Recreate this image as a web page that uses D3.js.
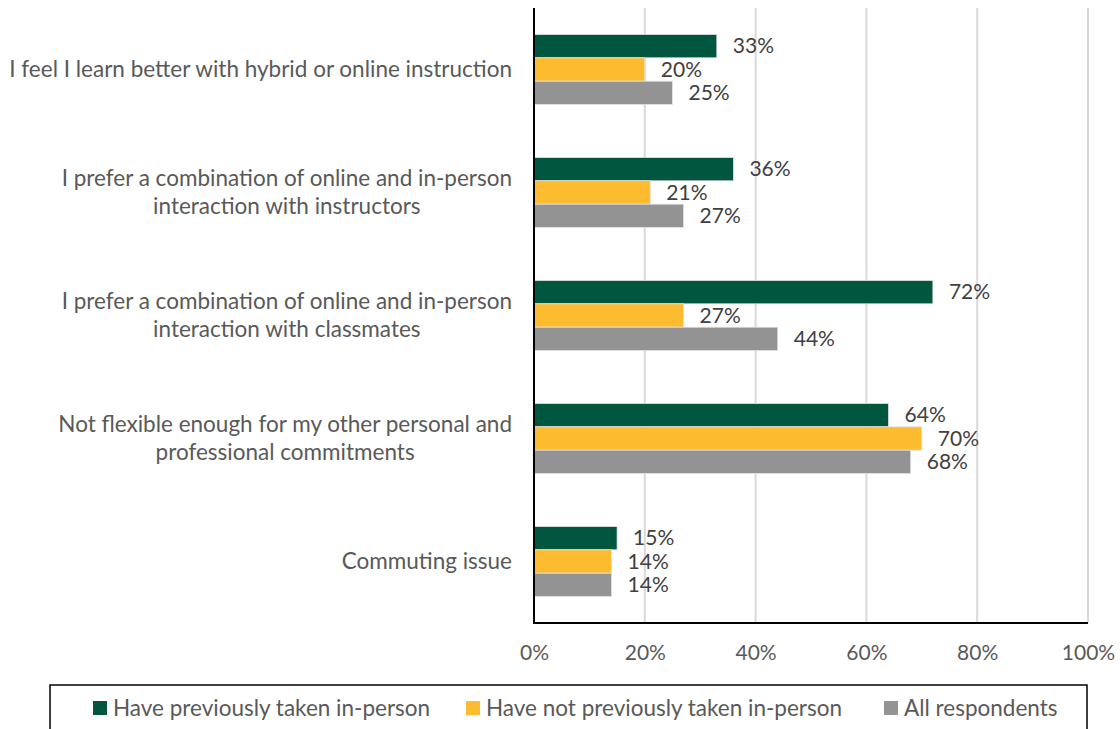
<!DOCTYPE html>
<html>
<head>
<meta charset="utf-8">
<script src="https://cdn.jsdelivr.net/npm/d3@7/dist/d3.min.js"></script>
<style>
  html, body { margin: 0; padding: 0; background: #fff; }
  svg { display: block; font-family: Lato, "Open Sans", sans-serif; }
</style>
</head>
<body>
<svg id="chart" width="1120" height="729"></svg>
<script>
// Reasons given, one label per category (lines split for wrapping)
const categories = [
  ["I feel I learn better with hybrid or online instruction"],
  ["I prefer a combination of online and in-person", "interaction with instructors"],
  ["I prefer a combination of online and in-person", "interaction with classmates"],
  ["Not flexible enough for my other personal and", "professional commitments"],
  ["Commuting issue"]
];
const seriesNames = [
  "Have previously taken in-person",
  "Have not previously taken in-person",
  "All respondents"
];
const previouslyTaken    = [33, 36, 72, 64, 15];
const notPreviouslyTaken = [20, 21, 27, 70, 14];
const allRespondents     = [25, 27, 44, 68, 14];
const tickValues = [0, 20, 40, 60, 80, 100];
const colors = ["#00563f", "#fdbb30", "#939393"];

const seriesValues = [previouslyTaken, notPreviouslyTaken, allRespondents];

const textSize = 22.5;   // category and legend text
const numSize = 21;      // value and tick labels

const svg = d3.select("#chart");
const plot = { left: 534, right: 1088, top: 8, bottom: 623 };

const x = d3.scaleLinear().domain([0, 100]).range([plot.left, plot.right]);
const y0 = d3.scaleBand()
  .domain(d3.range(categories.length))
  .range([plot.top, plot.bottom])
  .paddingInner(0.43)
  .paddingOuter(0.215);
const y1 = d3.scaleBand()
  .domain(d3.range(seriesNames.length))
  .range([0, y0.bandwidth()]);

// vertical gridlines
svg.append("g")
  .selectAll("line")
  .data(tickValues.filter(d => d > 0))
  .join("line")
  .attr("x1", d => x(d)).attr("x2", d => x(d))
  .attr("y1", plot.top).attr("y2", plot.bottom)
  .attr("stroke", "#d9d9d9")
  .attr("stroke-width", 2);

// bars
const groups = svg.append("g")
  .selectAll("g")
  .data(categories.map((c, i) => i))
  .join("g")
  .attr("transform", i => `translate(0,${y0(i)})`);

groups.selectAll("rect")
  .data(i => seriesValues.map((s, k) => ({ k, v: s[i] })))
  .join("rect")
  .attr("x", x(0))
  .attr("y", d => y1(d.k))
  .attr("width", d => x(d.v) - x(0))
  .attr("height", y1.bandwidth())
  .attr("fill", d => colors[d.k])
  .attr("stroke", "#e4e4e4")
  .attr("stroke-width", 0.8);

// value labels
groups.selectAll("text")
  .data(i => seriesValues.map((s, k) => ({ k, v: s[i] })))
  .join("text")
  .attr("x", d => x(d.v) + 16)
  .attr("y", d => y1(d.k) + y1.bandwidth() / 2)
  .attr("dy", "0.35em")
  .attr("font-size", numSize)
  .attr("fill", "#404040")
  .text(d => d.v + "%");

// axis lines
svg.append("line")
  .attr("x1", plot.left).attr("x2", plot.left)
  .attr("y1", plot.top).attr("y2", plot.bottom)
  .attr("stroke", "#000").attr("stroke-width", 2);
svg.append("line")
  .attr("x1", plot.left - 1).attr("x2", plot.right)
  .attr("y1", plot.bottom).attr("y2", plot.bottom)
  .attr("stroke", "#000").attr("stroke-width", 2);

// x tick labels
const xAxis = d3.axisBottom(x)
  .tickValues(tickValues)
  .tickFormat(d => d + "%")
  .tickSize(0)
  .tickPadding(22);
const gx = svg.append("g")
  .attr("transform", `translate(0,${plot.bottom})`)
  .call(xAxis);
gx.select(".domain").remove();
gx.selectAll("text")
  .attr("font-family", "Lato, 'Open Sans', sans-serif")
  .attr("font-size", numSize)
  .attr("fill", "#595959");

// category labels: block right-aligned at the axis, lines centred within it
const lineH = 28;
const labelRight = 512;
svg.append("g")
  .selectAll("text")
  .data(categories.map((c, i) => ({ lines: c, i })))
  .join("text")
  .attr("text-anchor", "middle")
  .attr("font-size", textSize)
  .attr("fill", "#595959")
  .each(function (d) {
    const cy = y0(d.i) + y0.bandwidth() / 2;
    const t = d3.select(this);
    const n = d.lines.length;
    const spans = d.lines.map((ln, j) =>
      t.append("tspan")
        .attr("y", cy + (j - (n - 1) / 2) * lineH)
        .attr("dy", "0.35em")
        .text(ln));
    const maxW = d3.max(spans, s => s.node().getComputedTextLength());
    spans.forEach(s => s.attr("x", labelRight - maxW / 2));
  });

// legend
svg.append("rect")
  .attr("x", 50).attr("y", 685)
  .attr("width", 1037).attr("height", 60)
  .attr("fill", "none")
  .attr("stroke", "#000").attr("stroke-width", 1.5);

const legendX = [93, 466, 884];
const lg = svg.append("g")
  .selectAll("g")
  .data(seriesNames.map((n, k) => ({ n, k })))
  .join("g")
  .attr("transform", d => `translate(${legendX[d.k]},708)`);
lg.append("rect")
  .attr("x", 0).attr("y", -7)
  .attr("width", 14).attr("height", 14)
  .attr("fill", d => colors[d.k]);
lg.append("text")
  .attr("x", 20)
  .attr("dy", "0.35em")
  .attr("font-size", textSize)
  .attr("fill", "#595959")
  .text(d => d.n);
</script>
</body>
</html>
